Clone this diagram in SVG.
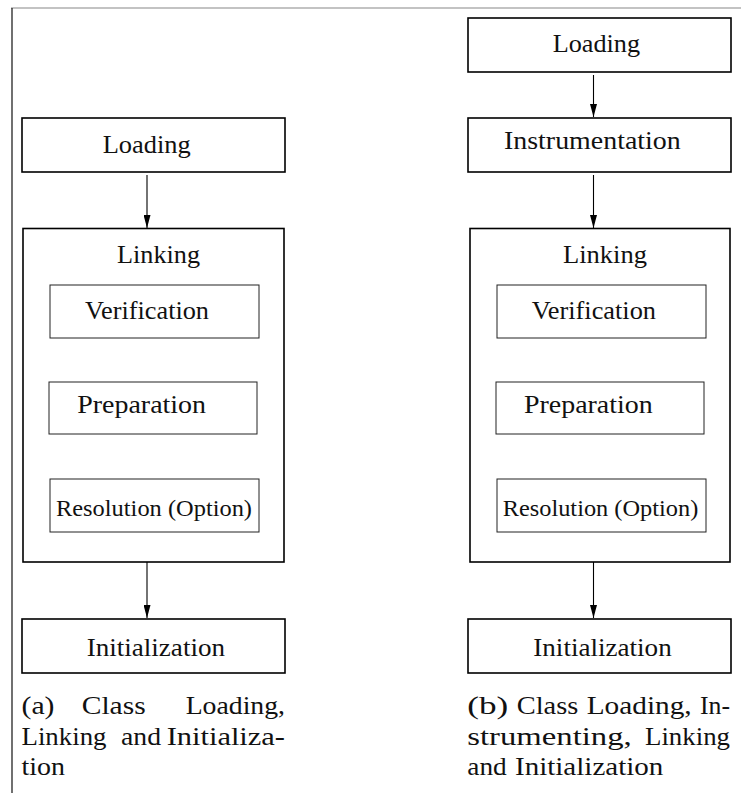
<svg xmlns="http://www.w3.org/2000/svg" width="741" height="793" viewBox="0 0 741 793">
<style>
.box{fill:#fff;stroke:#000;stroke-width:1.6}
.sub{fill:#fff;stroke:#222;stroke-width:1}
.lbl{font-family:"Liberation Serif","Times New Roman","DejaVu Serif",serif;font-size:26px;fill:#111}
.sm{font-family:"Liberation Serif","Times New Roman","DejaVu Serif",serif;font-size:22.5px;fill:#111}
.cap{font-family:"Liberation Serif","Times New Roman","DejaVu Serif",serif;font-size:26px;fill:#111}
.edge{stroke:#000;stroke-width:1.1;fill:none;marker-end:url(#ah)}
</style>
<defs>
<marker id="ah" markerWidth="13" markerHeight="7" refX="13" refY="3.5" orient="auto" markerUnits="userSpaceOnUse" viewBox="0 0 13 7">
<path d="M0,0 L13,3.5 L0,7 Z" fill="#000"/>
</marker>
</defs>
<rect width="741" height="793" fill="#fff"/>
<g id="frame">
<line x1="11" y1="8" x2="741" y2="8" stroke="#888" stroke-width="1.2"/>
<line x1="12" y1="8" x2="12" y2="793" stroke="#111" stroke-width="1.2"/>
</g>
<g id="connectors">
<line class="edge" x1="147" y1="175" x2="147" y2="228"/>
<line class="edge" x1="147" y1="562" x2="147" y2="618"/>
<line class="edge" x1="593.5" y1="75" x2="593.5" y2="117"/>
<line class="edge" x1="593.5" y1="175" x2="593.5" y2="228"/>
<line class="edge" x1="593.5" y1="562" x2="593.5" y2="618"/>
</g>
<g id="a-loading"><rect class="box" x="22" y="118" width="263" height="54"/><text class="lbl" x="102.7" y="153" textLength="88" lengthAdjust="spacingAndGlyphs">Loading</text></g>
<g id="a-linking"><rect class="box" x="23" y="228.5" width="261" height="333.5"/><text class="lbl" x="117" y="263" textLength="83" lengthAdjust="spacingAndGlyphs">Linking</text></g>
<g id="a-verification"><rect class="sub" x="50" y="285" width="209" height="53"/><text class="lbl" x="85" y="319" textLength="124" lengthAdjust="spacingAndGlyphs">Verification</text></g>
<g id="a-preparation"><rect class="sub" x="49" y="382" width="208" height="52"/><text class="lbl" x="77.3" y="413" textLength="128.7" lengthAdjust="spacingAndGlyphs">Preparation</text></g>
<g id="a-resolution"><rect class="sub" x="50" y="479" width="209" height="53"/><text class="sm" x="56" y="516" textLength="196" lengthAdjust="spacingAndGlyphs">Resolution (Option)</text></g>
<g id="a-initialization"><rect class="box" x="22" y="619" width="263" height="54"/><text class="lbl" x="86.7" y="656" textLength="138.3" lengthAdjust="spacingAndGlyphs">Initialization</text></g>
<g id="a-caption">
<text class="cap" x="21.5" y="714" textLength="33" lengthAdjust="spacingAndGlyphs">(a)</text>
<text class="cap" x="81.7" y="714" textLength="64" lengthAdjust="spacingAndGlyphs">Class</text>
<text class="cap" x="185.7" y="714" textLength="99.3" lengthAdjust="spacingAndGlyphs">Loading,</text>
<text class="cap" x="21.5" y="744.5" textLength="85" lengthAdjust="spacingAndGlyphs">Linking</text>
<text class="cap" x="121" y="744.5" textLength="40" lengthAdjust="spacingAndGlyphs">and</text>
<text class="cap" x="166.7" y="744.5" textLength="118.3" lengthAdjust="spacingAndGlyphs">Initializa-</text>
<text class="cap" x="21.5" y="775" textLength="43.5" lengthAdjust="spacingAndGlyphs">tion</text>
</g>
<g id="b-loading"><rect class="box" x="468" y="18" width="263" height="54"/><text class="lbl" x="552.7" y="52" textLength="87.3" lengthAdjust="spacingAndGlyphs">Loading</text></g>
<g id="b-instrumentation"><rect class="box" x="468" y="118" width="263" height="54"/><text class="lbl" x="504" y="149" textLength="176.7" lengthAdjust="spacingAndGlyphs">Instrumentation</text></g>
<g id="b-linking"><rect class="box" x="470" y="228.5" width="260" height="333.5"/><text class="lbl" x="563" y="263" textLength="84" lengthAdjust="spacingAndGlyphs">Linking</text></g>
<g id="b-verification"><rect class="sub" x="497" y="285" width="209" height="53"/><text class="lbl" x="531.7" y="319" textLength="124.3" lengthAdjust="spacingAndGlyphs">Verification</text></g>
<g id="b-preparation"><rect class="sub" x="496" y="382" width="208" height="52"/><text class="lbl" x="524" y="413" textLength="128.7" lengthAdjust="spacingAndGlyphs">Preparation</text></g>
<g id="b-resolution"><rect class="sub" x="497" y="479" width="209" height="53"/><text class="sm" x="502.7" y="516" textLength="195.6" lengthAdjust="spacingAndGlyphs">Resolution (Option)</text></g>
<g id="b-initialization"><rect class="box" x="468" y="619" width="263" height="54"/><text class="lbl" x="533.3" y="656" textLength="138.4" lengthAdjust="spacingAndGlyphs">Initialization</text></g>
<g id="b-caption">
<text class="cap" x="467.3" y="714" textLength="41" lengthAdjust="spacingAndGlyphs">(b)</text>
<text class="cap" x="516.7" y="714" textLength="61.6" lengthAdjust="spacingAndGlyphs">Class</text>
<text class="cap" x="586.7" y="714" textLength="105" lengthAdjust="spacingAndGlyphs">Loading,</text>
<text class="cap" x="700" y="714" textLength="30" lengthAdjust="spacingAndGlyphs">In-</text>
<text class="cap" x="467.3" y="744.5" textLength="164.4" lengthAdjust="spacingAndGlyphs">strumenting,</text>
<text class="cap" x="645" y="744.5" textLength="85" lengthAdjust="spacingAndGlyphs">Linking</text>
<text class="cap" x="467.3" y="775" textLength="39.4" lengthAdjust="spacingAndGlyphs">and</text>
<text class="cap" x="515" y="775" textLength="148.3" lengthAdjust="spacingAndGlyphs">Initialization</text>
</g>
</svg>
